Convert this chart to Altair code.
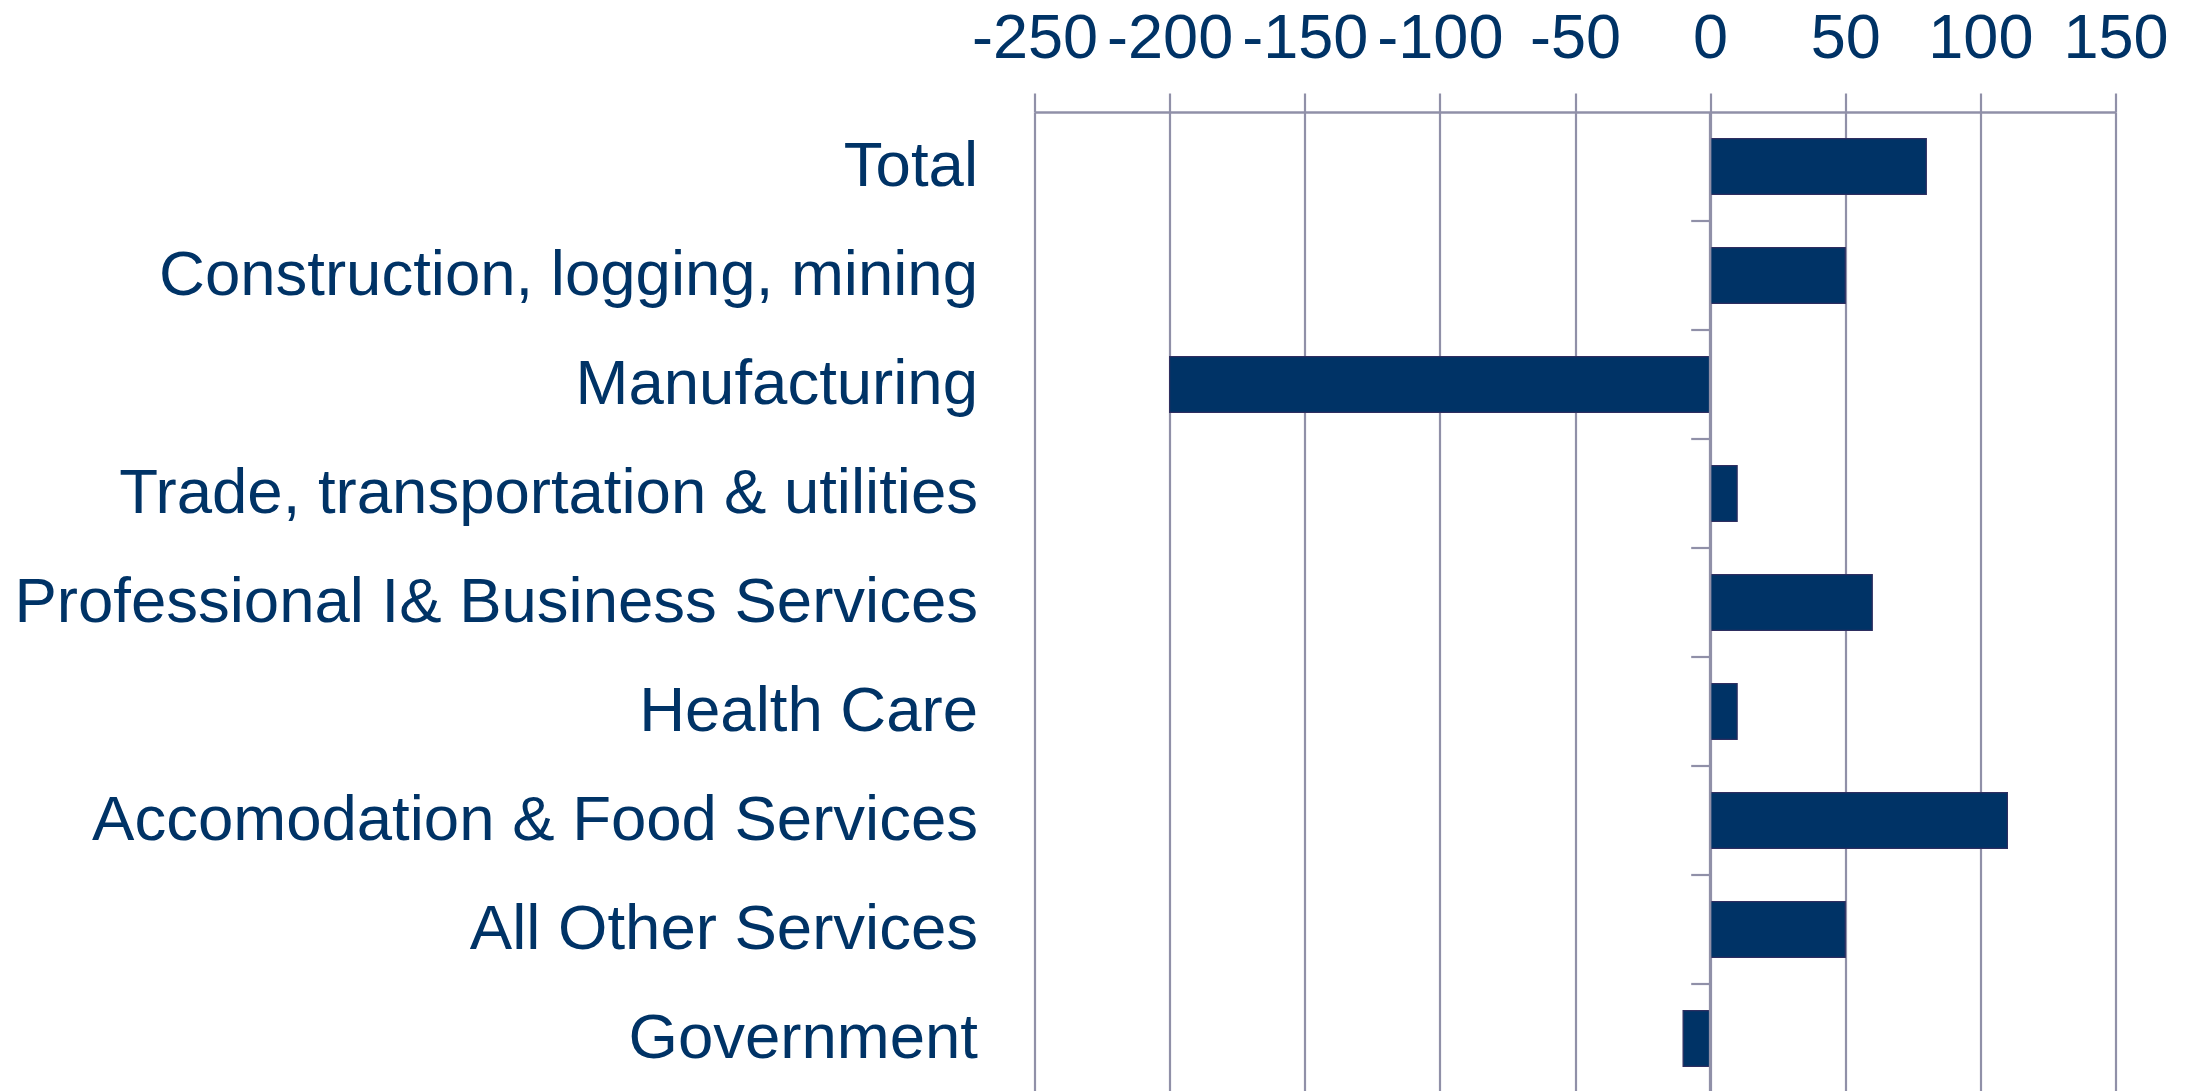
import altair as alt
import pandas as pd

categories = ["Total", "Construction, logging, mining", "Manufacturing",
              "Trade, transportation & utilities", "Professional I& Business Services",
              "Health Care", "Accomodation & Food Services", "All Other Services",
              "Government"]
values = [80, 50, -200, 10, 60, 10, 110, 50, -10]
x_ticks = [-250, -200, -150, -100, -50, 0, 50, 100, 150]

df = pd.DataFrame({"cat": categories, "val": values})
tick_df = pd.DataFrame({"cat": categories[1:], "x0": [-7] * 8, "x1": [0] * 8})

NAVY = "#003366"
GRID = "#9090A8"
W, H = 1081, 981
STEP = H / len(categories)

xscale = alt.Scale(domain=[-250, 150], nice=False, zero=False)
yscale = alt.Scale(domain=categories, paddingInner=0.49, paddingOuter=0.245)

bars = alt.Chart(df).mark_bar(color=NAVY, stroke="#2E2E60", strokeWidth=1.2).encode(
    x=alt.X("val:Q", scale=xscale,
            axis=alt.Axis(orient="top", values=x_ticks, grid=True, gridColor=GRID,
                          gridWidth=2.2, domainColor=GRID, domainWidth=2.5,
                          tickColor=GRID, tickWidth=2.2, tickSize=19,
                          labelFontSize=63, labelFont="Liberation Sans",
                          labelColor=NAVY, labelPadding=23, title=None,
                          labelFlush=False, labelOverlap=False,
                          labelExpr="datum.value < 0 ? '-' + abs(datum.value) : '' + datum.value")),
    y=alt.Y("cat:N", scale=yscale, sort=categories,
            axis=alt.Axis(domain=False, ticks=False, labelFontSize=63.5,
                          labelFont="Liberation Sans", labelColor=NAVY,
                          labelPadding=57, title=None, labelLimit=2000)),
)

zero = alt.Chart(pd.DataFrame({"z": [0]})).mark_rule(color=GRID, strokeWidth=2.5).encode(
    x=alt.X("z:Q", scale=xscale)
)

ticks = alt.Chart(tick_df).mark_rule(color=GRID, strokeWidth=2.2, yOffset=-STEP / 2).encode(
    x=alt.X("x0:Q", scale=xscale),
    x2="x1:Q",
    y=alt.Y("cat:N", scale=yscale, sort=categories),
)

chart = alt.layer(bars, zero, ticks).properties(
    width=W, height=H,
    autosize=alt.AutoSizeParams(type="none"),
    padding={"left": 1026.5, "top": 104, "right": 60, "bottom": 0},
).configure_view(stroke=None).configure(background="white")

chart.save("out.html", embed_options={"renderer": "svg", "actions": False})
